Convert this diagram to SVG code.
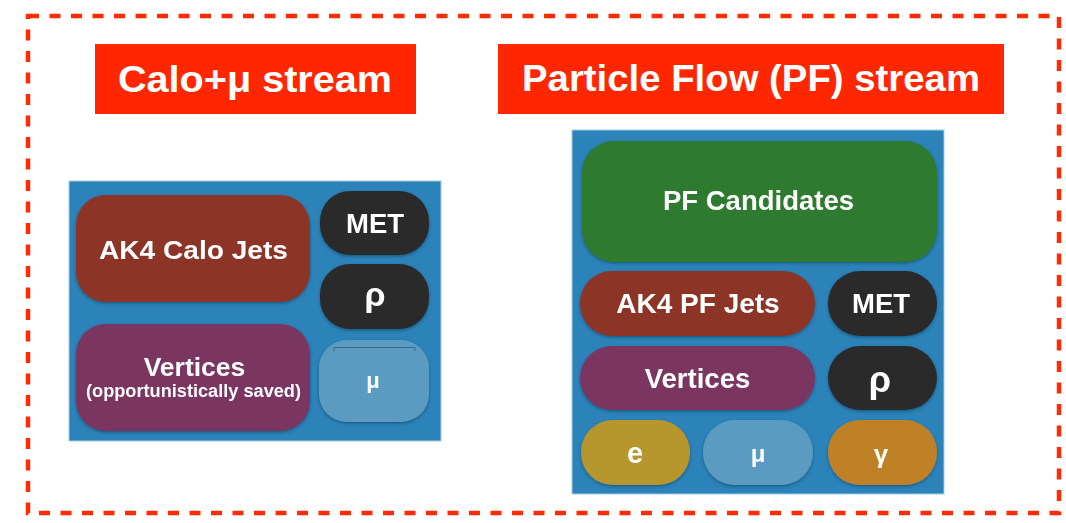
<svg xmlns="http://www.w3.org/2000/svg" width="1066" height="523" viewBox="0 0 1066 523">
<defs>
<filter id="sh" x="-10%" y="-10%" width="120%" height="130%">
<feDropShadow dx="0" dy="1.5" stdDeviation="1.5" flood-color="#0a2a40" flood-opacity="0.45"/>
</filter>
</defs>
<style>
text{font-family:"Liberation Sans",Arial,Helvetica,sans-serif;font-weight:bold;fill:#ffffff;text-anchor:middle}
.title{font-size:36px}
.lbl{font-size:27px}
.panel{fill:#2b83b9;stroke:#a9cbe0;stroke-width:1}
.jet{fill:#8c3428}
.dark{fill:#2a2a2a}
.vtx{fill:#7a3561}
.mu{fill:#5b9bc1}
.pf{fill:#2e7a2f}
.ele{fill:#b7962e}
.gam{fill:#c08027}
.tbox{fill:#ff2600}
</style>
<rect x="28" y="16" width="1031" height="497" fill="none" stroke="#ff2a06" stroke-width="4.5" stroke-dasharray="11 10.5"/>

<g id="title-calo">
<rect class="tbox" x="95" y="44" width="321" height="70"/>
<text class="title" x="255" y="92" textLength="274" lengthAdjust="spacingAndGlyphs">Calo+μ stream</text>
</g>
<g id="title-pf">
<rect class="tbox" x="498" y="44" width="506" height="70"/>
<text class="title" x="751" y="91" textLength="458" lengthAdjust="spacingAndGlyphs">Particle Flow (PF) stream</text>
</g>

<g id="panel-calo">
<rect class="panel" x="69" y="181" width="372" height="260"/>
</g>
<g id="calo-jets" filter="url(#sh)">
<rect class="jet" x="76" y="195" width="234" height="107" rx="30"/>
<text x="193.5" y="259" font-size="25.5" textLength="189" lengthAdjust="spacingAndGlyphs">AK4 Calo Jets</text>
</g>
<g id="calo-met" filter="url(#sh)">
<rect class="dark" x="320" y="191" width="109" height="64" rx="30"/>
<text x="375" y="233" font-size="27.5">MET</text>
</g>
<g id="calo-rho" filter="url(#sh)">
<rect class="dark" x="320" y="264" width="109" height="65" rx="30"/>
<text x="375" y="306" font-size="34">ρ</text>
</g>
<g id="calo-vertices" filter="url(#sh)">
<rect class="vtx" x="76" y="324" width="234" height="107" rx="30"/>
<text x="194.5" y="376" font-size="26.5">Vertices</text>
<text x="193.5" y="397" font-size="17.5" textLength="215" lengthAdjust="spacingAndGlyphs">(opportunistically saved)</text>
</g>
<g id="calo-mu" filter="url(#sh)">
<rect class="mu" x="319" y="340" width="110" height="82" rx="28"/>
<path d="M334 351 V347.5 H415 V351" fill="none" stroke="#3a6b88" stroke-width="1"/>
<text x="373" y="388" font-size="22">μ</text>
</g>

<g id="panel-pf">
<rect class="panel" x="572" y="130" width="372" height="364"/>
</g>
<g id="pf-candidates" filter="url(#sh)">
<rect class="pf" x="582" y="141" width="355" height="121" rx="32"/>
<text x="758.5" y="210" font-size="27.5">PF Candidates</text>
</g>
<g id="pf-jets" filter="url(#sh)">
<rect class="jet" x="580" y="271" width="235" height="65" rx="32"/>
<text x="698" y="313" font-size="28">AK4 PF Jets</text>
</g>
<g id="pf-met" filter="url(#sh)">
<rect class="dark" x="828" y="271" width="109" height="65" rx="32"/>
<text x="881" y="313" font-size="27.5">MET</text>
</g>
<g id="pf-vertices" filter="url(#sh)">
<rect class="vtx" x="580" y="346" width="235" height="64" rx="32"/>
<text x="697.5" y="388" font-size="27.5">Vertices</text>
</g>
<g id="pf-rho" filter="url(#sh)">
<rect class="dark" x="828" y="346" width="109" height="64" rx="32"/>
<text x="880" y="392" font-size="36">ρ</text>
</g>
<g id="pf-e" filter="url(#sh)">
<rect class="ele" x="581" y="420" width="109" height="65" rx="32"/>
<text x="635" y="463" font-size="29">e</text>
</g>
<g id="pf-mu" filter="url(#sh)">
<rect class="mu" x="703" y="420" width="110" height="65" rx="32"/>
<text x="758" y="462" font-size="24">μ</text>
</g>
<g id="pf-gamma" filter="url(#sh)">
<rect class="gam" x="828" y="420" width="109" height="65" rx="32"/>
<text x="881" y="463" font-size="26">γ</text>
</g>
</svg>
